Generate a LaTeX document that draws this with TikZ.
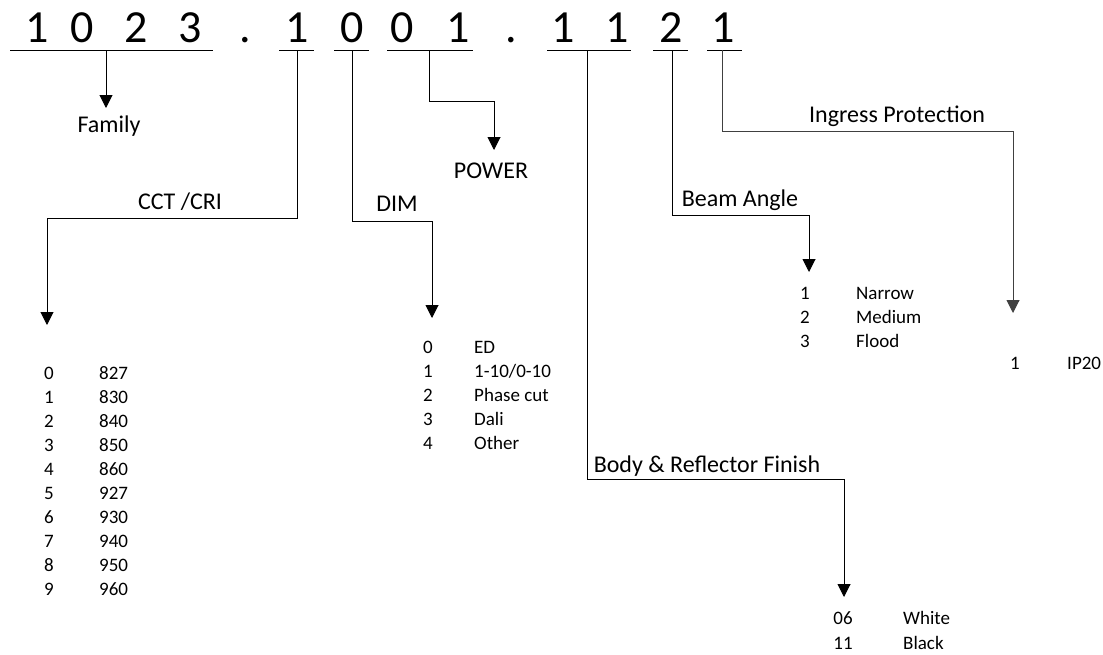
\documentclass[tikz,border=0pt]{standalone}
\usepackage{fontspec}
\setmainfont{Carlito}
\usetikzlibrary{arrows.meta}
\begin{document}
\begin{tikzpicture}[x=1pt,y=-1pt,
  conn/.style={line width=1pt, line join=miter, -{Triangle[length=13pt,width=13pt]}},
  uline/.style={line width=1pt},
  big/.style={font=\fontsize{46}{50}\selectfont, inner sep=0pt, anchor=base},
  lab/.style={font=\fontsize{24}{28}\selectfont, inner sep=0pt, anchor=base},
  num/.style={font=\fontsize{19}{22}\selectfont, inner sep=0pt, anchor=base},
  val/.style={font=\fontsize{19}{22}\selectfont, inner sep=0pt, anchor=base west}]
\useasboundingbox (0,0) rectangle (1103,654);

% ---- code digits ----
\node[big] (d1) at (37,42) {1};
\node[big] (d2) at (82,42) {0};
\node[big] (d3) at (136,42) {2};
\node[big] (d4) at (190,42) {3};
\node[big] (dot1) at (245,42) {.};
\node[big] (d5) at (297,42) {1};
\node[big] (d6) at (352,42) {0};
\node[big] (d7) at (402,42) {0};
\node[big] (d8) at (458,42) {1};
\node[big] (dot2) at (511,42) {.};
\node[big] (d9) at (563,42) {1};
\node[big] (d10) at (617,42) {1};
\node[big] (d11) at (671,42) {2};
\node[big] (d12) at (723,42) {1};

% ---- underlines ----
\coordinate (u1a) at (10,50);  \coordinate (u1b) at (213,50);
\coordinate (u2a) at (279,50); \coordinate (u2b) at (314,50);
\coordinate (u3a) at (334,50); \coordinate (u3b) at (369,50);
\coordinate (u4a) at (387,50); \coordinate (u4b) at (473,50);
\coordinate (u5a) at (547,50); \coordinate (u5b) at (631,50);
\coordinate (u6a) at (653,50); \coordinate (u6b) at (688,50);
\coordinate (u7a) at (707,50); \coordinate (u7b) at (742,50);
\draw[uline] (u1a) -- (u1b);
\draw[uline] (u2a) -- (u2b);
\draw[uline] (u3a) -- (u3b);
\draw[uline] (u4a) -- (u4b);
\draw[uline] (u5a) -- (u5b);
\draw[uline] (u6a) -- (u6b);
\draw[uline] (u7a) -- (u7b);

% ---- Family ----
\coordinate (famTop) at (106,50);
\coordinate (famTip) at (106,108);
\draw[conn] (famTop) -- (famTip);
\node[lab] (family) at (109,132) {Family};

% ---- POWER ----
\coordinate (powTop) at (429,50);
\coordinate (powB) at (494,101);
\coordinate (powTip) at (494,150);
\draw[conn] (powTop) |- (powB) -- (powTip);
\node[lab] (power) at (491,178) {POWER};

% ---- CCT / CRI ----
\coordinate (cctTop) at (297,50);
\coordinate (cctB) at (47,218);
\coordinate (cctTip) at (47,325);
\draw[conn] (cctTop) |- (cctB) -- (cctTip);
\node[lab] (cct) at (180,209) {CCT /CRI};
\foreach \i/\v in {0/827,1/830,2/840,3/850,4/860,5/927,6/930,7/940,8/950,9/960}{
  \node[num] (cctn\i) at (49,379+24*\i) {\i};
  \node[val] (cctv\i) at (99,379+24*\i) {\v};
}

% ---- DIM ----
\coordinate (dimTop) at (352,50);
\coordinate (dimB) at (432,221);
\coordinate (dimTip) at (432,318);
\draw[conn] (dimTop) |- (dimB) -- (dimTip);
\node[lab] (dim) at (397,211) {DIM};
\foreach \i/\v in {0/ED,1/1-10\slash 0-10,2/Phase cut,3/Dali,4/Other}{
  \node[num] (dimn\i) at (428,353+24*\i) {\i};
  \node[val] (dimv\i) at (474,353+24*\i) {\v};
}

% ---- Beam Angle ----
\coordinate (beamTop) at (672,50);
\coordinate (beamB) at (809,215);
\coordinate (beamTip) at (809,272);
\draw[conn] (beamTop) |- (beamB) -- (beamTip);
\node[lab] (beam) at (740,206) {Beam Angle};
\foreach \i/\v in {1/Narrow,2/Medium,3/Flood}{
  \node[num] (beamn\i) at (805,275+24*\i) {\i};
  \node[val] (beamv\i) at (856,275+24*\i) {\v};
}

% ---- Ingress Protection ----
\coordinate (ipTop) at (722,50);
\coordinate (ipB) at (1013,131);
\coordinate (ipTip) at (1013,313);
\draw[conn, black!75] (ipTop) |- (ipB) -- (ipTip);
\node[lab] (ip) at (897,122) {Ingress Protection};
\node[num] (ipn1) at (1015,369) {1};
\node[val] (ipv1) at (1067,369) {IP20};

% ---- Body & Reflector Finish ----
\coordinate (bodyTop) at (587,50);
\coordinate (bodyB) at (844,479);
\coordinate (bodyTip) at (844,597);
\draw[conn] (bodyTop) |- (bodyB) -- (bodyTip);
\node[lab] (body) at (707,472) {Body \& Reflector Finish};
\node[num] (bodyn1) at (843,624) {06};
\node[val] (bodyv1) at (903,624) {White};
\node[num] (bodyn2) at (843,649) {11};
\node[val] (bodyv2) at (903,649) {Black};
\end{tikzpicture}
\end{document}
